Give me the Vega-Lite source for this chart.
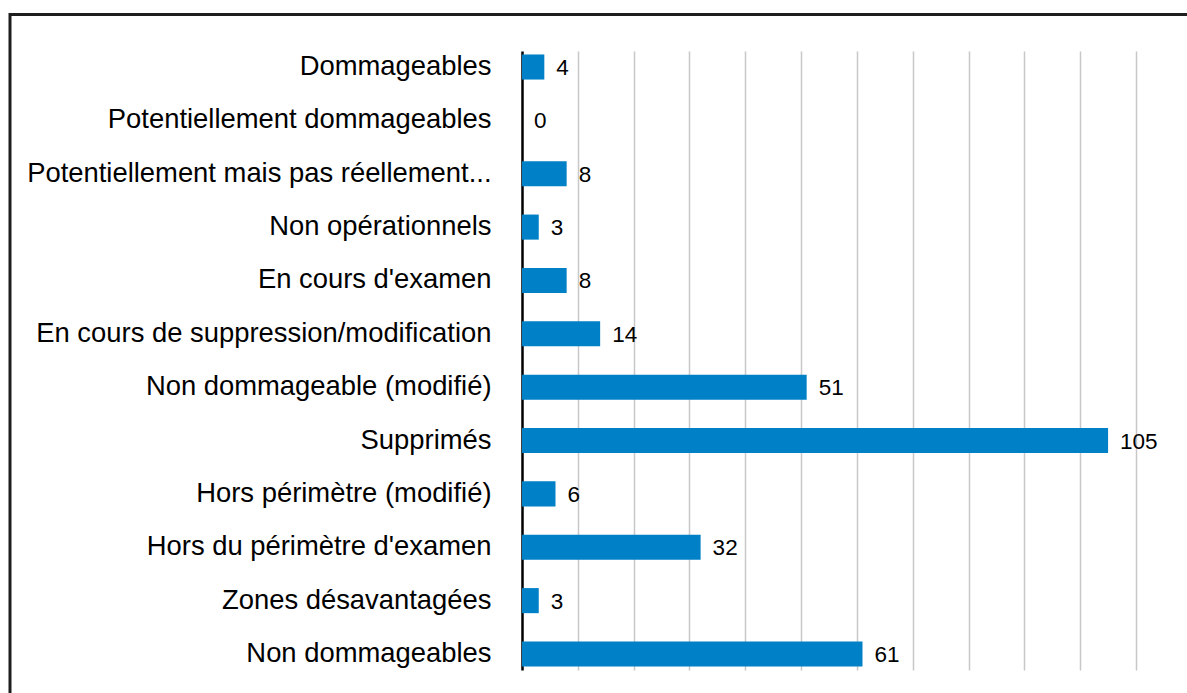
{
  "$schema": "https://vega.github.io/schema/vega-lite/v6.json",
  "autosize": "none",
  "width": 1183,
  "height": 686.5,
  "padding": {"left": 10, "top": 14.5, "right": -6, "bottom": -8},
  "background": "white",
  "config": {
    "view": {"stroke": "#1e1e1e", "strokeWidth": 3},
    "font": "Liberation Sans"
  },
  "data": {
    "values": [
      {"categorie": "Dommageables", "nombre": 4},
      {"categorie": "Potentiellement dommageables", "nombre": 0},
      {"categorie": "Potentiellement mais pas réellement...", "nombre": 8},
      {"categorie": "Non opérationnels", "nombre": 3},
      {"categorie": "En cours d'examen", "nombre": 8},
      {"categorie": "En cours de suppression/modification", "nombre": 14},
      {"categorie": "Non dommageable (modifié)", "nombre": 51},
      {"categorie": "Supprimés", "nombre": 105},
      {"categorie": "Hors périmètre (modifié)", "nombre": 6},
      {"categorie": "Hors du périmètre d'examen", "nombre": 32},
      {"categorie": "Zones désavantagées", "nombre": 3},
      {"categorie": "Non dommageables", "nombre": 61}
    ]
  },
  "encoding": {
    "y": {
      "field": "categorie",
      "type": "nominal",
      "sort": null,
      "scale": {"range": [36.5, 655.5], "paddingInner": 0.53, "paddingOuter": 0.065},
      "axis": {
        "title": null,
        "orient": "left",
        "offset": -512,
        "domain": true,
        "domainColor": "#000000",
        "domainWidth": 2.5,
        "ticks": false,
        "labelPadding": 31,
        "labelFont": "Liberation Sans",
        "labelFontSize": 27.4,
        "labelColor": "#000000",
        "labelLimit": 0,
        "grid": false
      }
    },
    "x": {
      "field": "nombre",
      "type": "quantitative",
      "scale": {"domain": [0, 110], "range": [512, 1126], "nice": false, "zero": true},
      "axis": {
        "title": null,
        "orient": "top",
        "values": [10, 20, 30, 40, 50, 60, 70, 80, 90, 100, 110],
        "domain": false,
        "ticks": false,
        "labels": false,
        "grid": true,
        "gridColor": "#c8c8c8",
        "gridWidth": 1.5
      }
    }
  },
  "layer": [
    {
      "mark": {"type": "bar", "color": "#0080c6"}
    },
    {
      "mark": {
        "type": "text",
        "align": "left",
        "baseline": "middle",
        "dx": 12,
        "dy": 1,
        "fontSize": 22.5,
        "font": "Liberation Sans",
        "color": "#000000"
      },
      "encoding": {"text": {"field": "nombre", "type": "quantitative"}}
    }
  ]
}
